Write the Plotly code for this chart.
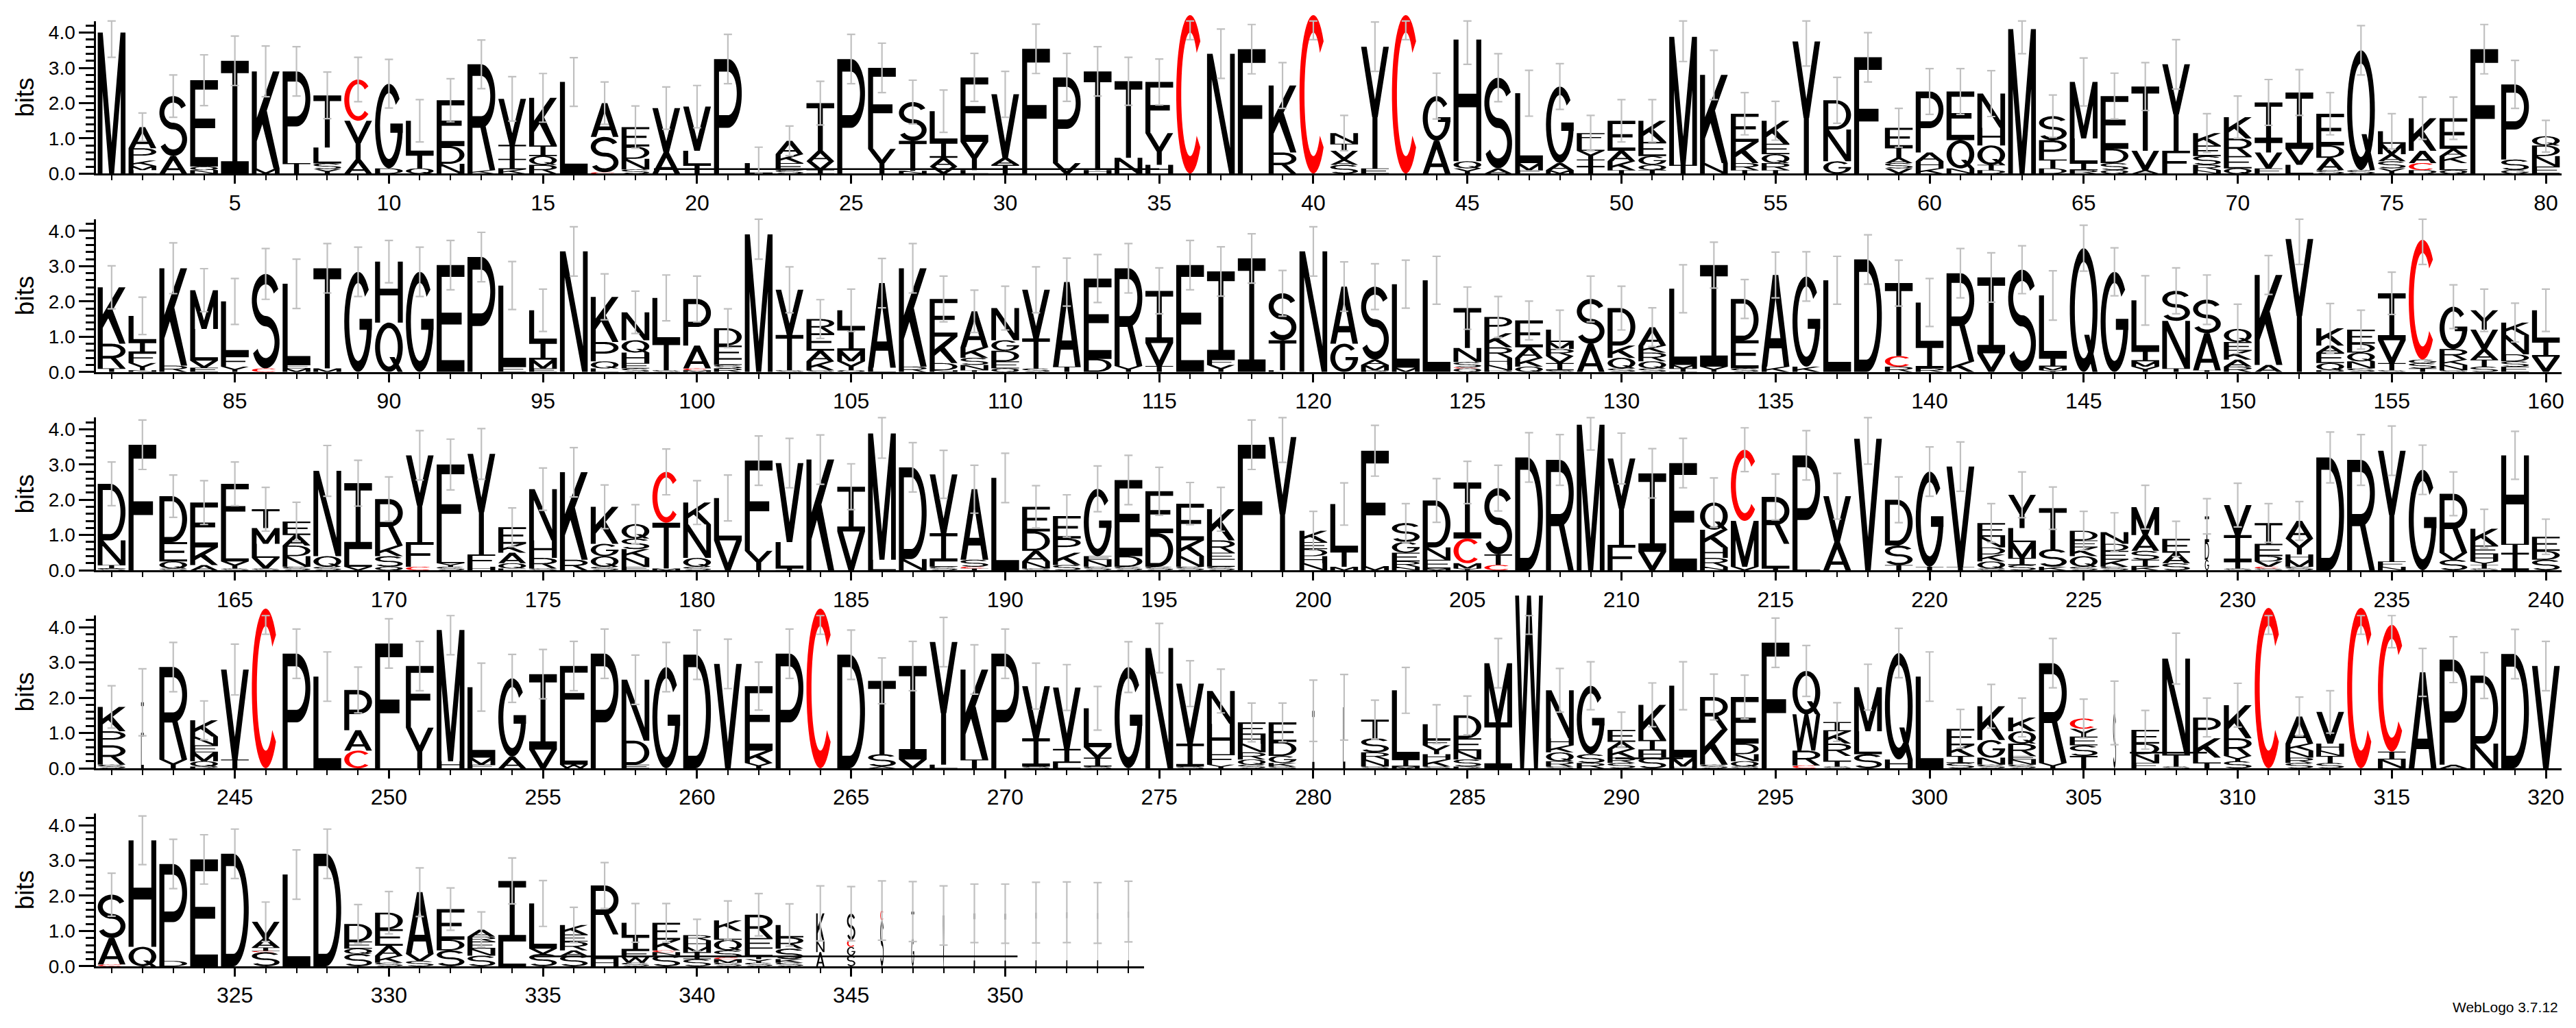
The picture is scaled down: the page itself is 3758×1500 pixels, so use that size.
import numpy as np
import plotly.graph_objects as go

# ---------------- data (read from the reference logo) ----------------
# each entry: one stack, letters bottom -> top, token = letter + height in bits
ROW_FIRST = [1, 81, 161, 241, 321]

STACKS_1_80 = [
    "M4.0", "L.1 M.12 K.15 P.35 A.6", "A.5 S1.7", "N.1 Q.1 E2.45", "I3.2", "M.15 K2.75", "T.3 P2.6", "Y.13 S.16 L.45 T1.48", "A.4 Y1.1 C1.17", "D.15 G2.4",
    "Q.15 T.4 L.95", "N.28 D.5 E1.3", "K.1 R3.0", "K.12 I.3 T.4 V1.3", "R.25 Q.25 I.3 K1.35", "L2.6", "C.04 S1.0 A.96", "S.12 N.3 D.35 E.55", "A.6 V1.26", "T.25 L.4 V1.25",
    "P3.25", "L.3", "S.1 E.2 K.25 A.38", "I.1 V.25 A.3 T1.35", "P3.25", "Y.7 F2.3", "N.08 T.85 S1.1", "V.2 A.25 I.45 L.87", "L.1 Y.8 E1.83", "T.25 A.2 V1.8",
    "F3.54", "V.3 P2.43", "H.1 T2.8", "N.45 T2.17", "H.25 Y.9 F1.45", "C4.5", "N3.4", "F3.53", "R.6 K1.9", "C4.5",
    "S.25 A.15 V.25 T.2 N.3", "E.15 Y3.45", "C4.5", "A.93 G1.27", "Y.15 Q.2 H3.45", "A.15 S2.57", "F.1 M.2 L1.98", "M.1 A.2 G2.17", "T.2 I.2 Y.25 L.25 F.25", "T.1 K.25 A.3 E.85",
    "T.1 Q.15 G.25 E.4 K.6", "T.25 M3.63", "N.3 K2.5", "T.1 R.2 K.6 E.8", "T.1 R.2 Q.25 E.3 K.65", "Y3.75", "G.35 N.9 D.83", "L.05 F3.25", "V.15 S.15 A.15 T.3 E.55", "K.15 H.2 A.25 P1.73",
    "N.15 Q.8 E1.38", "D.1 T.15 Q.55 H.5 N.97", "M4.1", "D.15 T.25 P.55 S.68", "R.1 I.2 L.7 M1.6", "Q.1 S.2 D.4 E1.5", "A.1 V.55 T1.82", "F.65 Y2.45", "N.1 R.15 S.25 E.3 K.35", "Q.15 E.35 R.5 K.6",
    "F.15 V.45 T.3 I1.12", "L.25 V.45 I1.6", "S.1 A.35 D.35 E.9", "S.1 Q3.4", "Y.15 S.2 A.2 M.3 L.35", "D.1 C.2 A.35 K.92", "Q.1 L.2 K.2 A.2 E.87", "F3.53", "G.1 S.3 P2.13", "E.2 N.3 D.3 Q.26",
]
STACKS_81_160 = [
    "T.1 R.7 K1.6", "N.05 Y.2 F.3 I.3 L.74", "R.18 K2.76", "E.12 V.2 L.9 M1.1", "Y.15 F.3 L1.55", "C.1 S2.68", "M.1 E.1 L2.3", "M.1 T2.84", "G2.84", "Q1.4 H1.73",
    "G2.84", "E3.03", "P3.26", "E.15 L2.3", "E.1 M.25 I.5 L.9", "N3.42", "L.1 Q.2 P.55 K1.28", "S.1 E.15 H.3 Q.35 N.79", "S.05 T.8 L1.25", "M.05 C.05 A.65 P1.32",
    "R.1 S.1 L.15 E.4 D.49", "M3.9", "S.05 T1.0 V1.28", "S.05 K.25 A.3 E.5 R.4", "Q.05 Y.25 M.3 I.65 L.5", "L.12 A2.4", "R.15 K2.79", "N.05 D.2 K.75 E1.07", "T.05 N.15 S.2 K.3 A1.02", "Q.1 E.2 D.3 G.3 N.91",
    "S.1 T.85 V1.38", "T.15 A2.4", "D.37 E2.28", "Y.17 R2.77", "T.17 V.65 I1.48", "E3.03", "Y.2 F.15 I2.5", "I3.22", "L.05 T.85 S1.33", "N3.42",
    "G.8 A1.62", "R.05 M.15 A.15 S2.07", "M.12 L2.37", "L2.6", "Q.1 C.03 S.15 N.4 T1.13", "D.05 N.15 H.2 R.3 K.4 P.46", "Q.15 K.25 A.3 E.76", "S.05 I.2 V.2 R.2 M.2 L.35", "A.8 S1.27", "S.1 Q.3 K.35 D1.06",
    "S.1 Q.2 R.25 K.2 A.52", "I.1 M.1 L2.16", "Y.15 I2.88", "S.1 E.8 D1.17", "K.15 A2.6", "K.15 G2.56", "L2.6", "D3.19", "R.15 C.3 T2.07", "R.1 I.65 L1.22",
    "K.3 R2.5", "V.53 I2.15", "S2.9", "Y.05 M.1 I.25 L1.77", "Q3.51", "G2.84", "Y.15 M.15 I.3 L1.43", "T.1 N1.35 S.85", "T.05 A1.05 S.95", "R.15 A.2 K.25 E.25 Q.37",
    "A.2 K2.55", "Y3.77", "D.05 Q.2 E.3 A.2 K.49", "S.1 N.2 Q.25 D.25 E.4", "S.05 T.2 V.65 I1.33", "T.1 S.15 G.1 C3.4", "S.05 N.15 K.15 R.3 G1.2", "S.15 T.2 A.3 V.55 Y.55", "E.15 S.15 D.2 N.55 K.35", "V.43 I.45 L.87",
]
STACKS_161_240 = [
    "S.05 I.1 N.7 D1.6", "F3.56", "S.05 Q.2 E.55 D1.3", "A.15 K.5 E1.27", "S.05 Y.2 L.8 F1.4", "S.05 V.3 L.4 M.45 T.53", "S.1 N.3 D.3 A.3 E.38", "S.1 Q.3 N2.42", "V.1 L.5 I1.87", "Q.1 S.3 K.3 R1.32",
    "C.1 F.7 Y2.46", "S.1 Y.1 L.3 F2.5", "H.1 F.35 Y2.85", "L.05 Q.15 A.3 K.25 E.47", "S.05 R.3 H.5 N1.45", "R.3 K2.48", "S.1 Q.3 G.35 K1.05", "E.1 N.25 K.25 S.3 Q.41", "M.05 T1.3 C1.44", "S.1 Q.25 N.95 K.62",
    "V.85 L1.2", "Y.55 F2.56", "I.05 L.75 V2.24", "K3.14", "V1.1 I1.27", "L.3 M3.58", "N.32 D2.6", "S.1 L.15 I.8 V1.67", "T.05 C.05 S.2 A2.0", "L2.62",
    "S.05 N.2 A.3 D.55 E.7", "S.15 K.35 P.4 E.64", "S.1 N.2 E.1 G1.91", "S.1 D.3 E2.16", "S.1 D.95 E1.19", "S.1 N.3 K.45 E1.04", "S.1 L.2 E.2 R.35 K.88", "F3.56", "Y3.78", "N.2 H.2 D.2 E.2 K.32",
    "M.1 T.45 L1.33", "M.12 F3.27", "N.1 R.15 E.25 G.3 S.54", "M.05 E.25 N.35 D1.33", "Y.05 M.15 C.7 I1.59", "C.15 T.3 S1.88", "D3.2", "R3.13", "M4.13", "F.72 Y2.45",
    "V.52 I2.23", "E3.04", "N.1 R.25 H.3 K.5 Q.77", "V.1 M1.3 C2.02", "T.05 L.7 R1.33", "L.2 P3.06", "A.8 V1.3", "V3.73", "T.15 S.55 D1.3", "T.1 G2.7",
    "T.1 V2.84", "S.05 Q.2 K.2 D.2 N.3 E.39", "S.15 I.2 M.45 L.4 Y.94", "K.1 S.5 T1.16", "S.1 Q.3 K.25 E.2 D.27", "S.1 K.2 E.25 D.2 N.33", "K.1 I.2 S.25 A.45 M.79", "S.2 A.3 E.39", "G.3 D.5 I.73", "S.05 T.2 I.75 V.85",
    "S.05 C.05 V.15 D.15 E.35 T.59", "S.1 M.2 H.15 Y.45 A.5", "D3.2", "R3.13", "N.1 F.15 Y3.14", "G2.85", "S.3 V.2 R1.67", "S.05 T.1 Y.1 H.2 E.25 K.48", "I.5 T.25 H2.51", "S.3 D.25 E.4",
]
STACKS_241_320 = [
    "S.1 R.55 P.4 K.69", "L.9 I.97", "Y.25 R2.62", "R.05 Q.15 M.25 E.2 N.25 K.46", "T.25 V2.55", "C4.53", "P3.25", "L2.6", "C.5 A.58 P1.14", "F3.54",
    "Y1.15 F1.75", "H.2 M3.72", "F.1 M.2 L2.0", "A.33 G2.22", "V.53 I2.14", "W.1 L1.1 F1.7", "P3.25", "E.1 D.68 N1.73", "G2.87", "D3.22",
    "V2.96", "Y.15 K.35 E1.83", "P3.25", "C4.53", "D3.22", "A.05 S.35 T2.08", "V.25 I2.65", "L.1 Y3.48", "T.25 K2.55", "P3.25",
    "S.05 I.8 V1.48", "L.15 I.4 V1.74", "S.05 I.25 V.3 L1.1", "G2.87", "N3.41", "S.05 I.65 V1.7", "Y.1 F.3 H.86 N.93", "S.1 Q.15 R.2 N.25 H.25 E.35", "S.05 K.1 G.2 D.4 E.55", "I1.63",
    "L1.73", "S.05 N.2 R.2 S.4 T.53", "M.05 I.2 L1.96", "S.05 K.2 H.15 Y.25 F.15 L.45", "R.05 S.2 N.25 E.35 D.65", "I1.3 M1.68", "W4.9", "S.05 R.15 Q.25 K.2 H.2 N1.36", "R.15 S.25 G1.94", "S.15 R.15 K.25 A.2 E.34",
    "S.3 H.2 I.3 K1.0", "H.05 M.25 L2.04", "S.1 K1.0 R.92", "S.05 Q.15 N.2 D.3 E1.32", "F3.56", "C.08 R.42 W1.03 Q1.23", "S.05 T.15 L.15 R.35 K.35 I.26", "S.4 L.65 M1.25", "H.25 Q3.02", "L2.6",
    "S.15 I.2 K.3 E.47", "S.1 N.2 G.5 K.96", "S.1 N.15 E.1 R.35 Q.35 K.39", "Y.15 R2.83", "T.35 S.3 E.25 Y.22 C.29", "S1.57", "F.15 N.25 D.3 E.39", "S.05 T.35 N2.71", "T.15 L.15 K.55 P.59", "S.2 Y.15 R.5 K.94",
    "C4.55", "S.15 R.15 N.2 K.2 A.77", "S.15 T.2 N.15 H.2 V.9", "C4.55", "N.25 I.22 C3.6", "A2.72", "A.1 P2.98", "N.7 D1.93", "D3.24", "V2.9",
]
STACKS_321_354 = [
    "C.05 A.75 S1.23", "Q.55 H3.02", "D.15 P2.75", "E3.03", "D3.19", "S.4 C.03 I.1 A.26 V.47", "L2.6", "D3.19", "S.35 Q.15 E.2 D.5", "S.1 K.2 A.28 E.47 D.47",
    "S.15 V.2 A1.75", "S.45 D.3 E.87", "S.3 N.2 E.2 R.14 A.2", "L.7 I1.72", "S.35 V.15 L1.28", "S.3 A.15 R.25 E.2 K.27", "H.2 L.7 R1.39", "S.1 W.15 E.2 I.4 L.38", "S.3 N.1 C.05 K.3 E.48", "S.2 I.2 M.15 H.18 R.15",
    "S.1 M.1 C.05 S.2 Q.3 L.25 K.3", "S.1 Y.1 T.1 L.2 E.3 R.66", "S.1 K.1 S.3 R.32 L.35", "A.4 N.3 K.8", "S.3 G.25 C.2 S.74", "S1.3 C.28", "G.8 T.75", "V1.44", "I1.5", "I1.49",
    "I1.52", "I1.53", "I1.51", "I1.55",
]

# error bar half-lengths (bits) per position
ERR_1_80 = [.7, .4, .6, .72, .7, .72, .7, .66, .63, .69, .6, .61, .69, .63, .69, .69, .6, .6, .6, .6,
            .7, .45, .42, .62, .7, .7, .62, .6, .68, .65, .7, .68, .7, .68, .65, .5, .7, .7, .65, .5,
            .5, .7, .5, .65, .7, .68, .65, .65, .5, .6, .6, .7, .7, .6, .55, .7, .65, .7, .55, .65,
            .65, .65, .7, .6, .68, .65, .68, .7, .55, .6, .65, .65, .6, .7, .5, .6, .6, .7, .68, .45]
ERR_81_160 = [.61, .53, .72, .61, .65, .72, .7, .7, .7, .6, .7, .7, .7, .68, .6, .7, .65, .6, .65, .65,
              .55, .7, .65, .55, .6, .7, .7, .65, .6, .62, .65, .68, .68, .7, .65, .7, .7, .7, .65, .7,
              .7, .65, .68, .68, .6, .58, .55, .55, .65, .62, .55, .68, .65, .55, .65, .7, .68, .7, .65, .68,
              .7, .7, .68, .7, .65, .68, .7, .65, .7, .7, .55, .72, .7, .55, .6, .7, .62, .6, .55, .6]
ERR_161_240 = [.62, .7, .6, .62, .62, .62, .55, .72, .65, .63, .7, .72, .72, .55, .6, .7, .62, .55, .65, .62,
               .65, .7, .7, .7, .65, .7, .7, .68, .68, .7, .6, .6, .65, .7, .68, .6, .62, .7, .72, .55,
               .6, .72, .55, .62, .6, .65, .7, .72, .72, .72, .7, .7, .7, .62, .65, .7, .65, .72, .65, .7,
               .7, .55, .65, .6, .55, .55, .62, .5, .5, .62, .55, .55, .72, .72, .7, .7, .62, .55, .68, .5]
ERR_241_320 = [.6, .95, .7, .55, .72, .5, .7, .7, .65, .7, .7, .7, .68, .68, .7, .7, .7, .7, .7, .7,
               .7, .68, .7, .5, .7, .65, .7, .7, .7, .7, .65, .65, .62, .72, .7, .65, .62, .55, .55, .87,
               .93, .55, .65, .55, .55, .7, .5, .62, .68, .5, .62, .68, .65, .62, .7, .72, .55, .65, .7, .7,
               .55, .62, .55, .7, .55, .9, .55, .72, .55, .62, .5, .55, .6, .5, .65, .68, .65, .65, .7, .7]
ERR_321_354 = [.61, .69, .7, .7, .7, .56, .7, .7, .55, .6, .69, .6, .5, .65, .65, .5, .65, .55, .55, .45,
               .55, .6, .6, .78, .77, .84, .85, .84, .83, .84, .86, .86, .86, .86]

# stacks drawn narrower (fraction of the full stack width)
NARROW_WIDTH = {229: .15, 242: .1, 280: .08, 281: .08, 306: .1, 344: .3, 345: .3, 346: .12,
                347: .1, 348: .06, 349: .05, 350: .05, 351: .04, 352: .04, 353: .04, 354: .04}

# thin horizontal rules visible inside the logo: (from position, to position, height in bits)
FLAT_RULES = [(18.6, 35.0, 0.13), (289.8, 292.0, 0.28), (306.5, 309.0, 0.44), (334.7, 350.4, 0.28)]

RED_LETTERS = {"C"}

ROWS = [STACKS_1_80, STACKS_81_160, STACKS_161_240, STACKS_241_320, STACKS_321_354]
ERRS = [ERR_1_80, ERR_81_160, ERR_161_240, ERR_241_320, ERR_321_354]

# ---------------- geometry / style ----------------
FONT = "Liberation Sans, Arial, Helvetica, sans-serif"
FIG_W, FIG_H = 3758, 1500
PX_PER_BIT = 52.0
PX_PER_POS = 45.0
X_LEFT_PX = 132.5
BASELINES_PX = [248.0, 540.5, 833.0, 1125.0, 1417.0]
AXIS_TOP = 4.33
LETTER_FILL = 0.9

SW, BH = 0.18, 0.11


def _rect(x0, y0, x1, y1):
    return [(x0, y0), (x1, y0), (x1, y1), (x0, y1)]


def _arc(cx, cy, rx, ry, a0, a1, sx=SW, sy=BH, n=30):
    t = np.radians(np.linspace(a0, a1, n))
    out = list(zip(cx + rx * np.cos(t), cy + ry * np.sin(t)))
    t2 = t[::-1]
    inn = list(zip(cx + (rx - sx) * np.cos(t2), cy + (ry - sy) * np.sin(t2)))
    return out + inn


_P_PARTS = [_rect(0, 0, SW, 1), _rect(0, 1 - BH, .5, 1), _rect(0, .4, .5, .4 + BH), _arc(.5, .7, .5, .3, -90, 90)]

RAW_GLYPHS = {
    "A": [[(0, 0), (.2, 0), (.6, 1), (.4, 1)], [(.8, 0), (1, 0), (.6, 1), (.4, 1)], _rect(.15, .2, .85, .2 + BH)],
    "C": [_arc(.5, .5, .5, .5, 42, 318, n=40)],
    "D": [_rect(0, 0, SW, 1), _rect(0, 0, .45, BH), _rect(0, 1 - BH, .45, 1), _arc(.45, .5, .55, .5, -90, 90)],
    "E": [_rect(0, 0, SW, 1), _rect(0, 1 - BH, 1, 1), _rect(0, .5 - BH / 2, .9, .5 + BH / 2), _rect(0, 0, 1, BH)],
    "F": [_rect(0, 0, SW, 1), _rect(0, 1 - BH, 1, 1), _rect(0, .44, .88, .44 + BH)],
    "G": [_arc(.5, .5, .5, .5, 40, 360, n=40), _rect(.55, .42, 1, .42 + BH)],
    "H": [_rect(0, 0, SW, 1), _rect(1 - SW, 0, 1, 1), _rect(0, .5 - BH / 2, 1, .5 + BH / 2)],
    "I": [_rect(.5 - SW / 2, 0, .5 + SW / 2, 1), _rect(0, 1 - BH, 1, 1), _rect(0, 0, 1, BH)],
    "K": [_rect(0, 0, SW, 1), [(SW, .28), (SW, .52), (.76, 1), (1, 1)], [(.34, .5), (.52, .62), (1, 0), (.78, 0)]],
    "L": [_rect(0, 0, SW, 1), _rect(0, 0, 1, BH)],
    "M": [_rect(0, 0, .17, 1), _rect(.83, 0, 1, 1), [(0, 1), (.18, 1), (.59, 0), (.41, 0)], [(.82, 1), (1, 1), (.59, 0), (.41, 0)]],
    "N": [_rect(0, 0, .17, 1), _rect(.83, 0, 1, 1), [(0, 1), (.2, 1), (1, 0), (.8, 0)]],
    "P": _P_PARTS,
    "Q": [_arc(.5, .5, .5, .5, 0, 360, n=50), [(.52, .3), (.7, .3), (1, 0), (.82, 0)]],
    "R": _P_PARTS + [[(.45, .42), (.65, .42), (1, 0), (.8, 0)]],
    "S": [_arc(.5, .7225, .5, .2775, 25, 270, sy=.11), _arc(.5, .2775, .5, .2775, -155, 90, sy=.11)],
    "T": [_rect(.5 - SW / 2, 0, .5 + SW / 2, 1), _rect(0, 1 - BH, 1, 1)],
    "V": [[(0, 1), (.2, 1), (.6, 0), (.4, 0)], [(.8, 1), (1, 1), (.6, 0), (.4, 0)]],
    "W": [[(0, 1), (.14, 1), (.32, 0), (.18, 0)], [(.18, 0), (.32, 0), (.57, 1), (.43, 1)],
          [(.43, 1), (.57, 1), (.82, 0), (.68, 0)], [(.68, 0), (.82, 0), (1, 1), (.86, 1)]],
    "Y": [[(0, 1), (.2, 1), (.6, .42), (.4, .42)], [(.8, 1), (1, 1), (.6, .42), (.4, .42)], _rect(.5 - SW / 2, 0, .5 + SW / 2, .45)],
}


def _norm(poly):
    a = np.asarray(poly, dtype=float)
    x, y = a[:, 0], a[:, 1]
    area = 0.5 * np.sum(x * np.roll(y, -1) - np.roll(x, -1) * y)
    return a if area > 0 else a[::-1]


GLYPHS = {k: [_norm(p) for p in v] for k, v in RAW_GLYPHS.items()}


def parse_stack(s):
    return [(t[0], float(t[1:])) for t in s.split()]


fig = go.Figure()
layout = dict(width=FIG_W, height=FIG_H, autosize=False, margin=dict(l=0, r=0, t=0, b=0),
              paper_bgcolor="white", plot_bgcolor="rgba(0,0,0,0)", showlegend=False, hovermode=False)

for r in range(5):
    stacks = ROWS[r]
    errs = ERRS[r]
    first = ROW_FIRST[r]
    n = len(stacks)
    xi, yf, yl = r + 1, r + 1, r + 6
    xref = "x" if xi == 1 else f"x{xi}"
    yref_f = "y" if yf == 1 else f"y{yf}"
    yref_l = f"y{yl}"
    xkey = "xaxis" if xi == 1 else f"xaxis{xi}"
    ykey_f = "yaxis" if yf == 1 else f"yaxis{yf}"
    ykey_l = f"yaxis{yl}"

    x0p = X_LEFT_PX / FIG_W
    x1p = (X_LEFT_PX + n * PX_PER_POS) / FIG_W
    yb = (FIG_H - BASELINES_PX[r]) / FIG_H
    yt_f = yb + AXIS_TOP * PX_PER_BIT / FIG_H
    yt_l = min(1.0, yb + 5.1 * PX_PER_BIT / FIG_H)
    let_top = (yt_l - yb) * FIG_H / PX_PER_BIT

    buf = {"k": ([], []), "r": ([], [])}
    centers, ups, dns, xs_err = [], [], [], []
    for i, s in enumerate(stacks):
        pos = first + i
        wf = NARROW_WIDTH.get(pos, 1.0) * LETTER_FILL
        y0 = 0.0
        for letter, h in parse_stack(s):
            key = "r" if letter in RED_LETTERS else "k"
            bx, by = buf[key]
            for poly in GLYPHS[letter]:
                px = pos + (poly[:, 0] - 0.5) * wf
                py = y0 + poly[:, 1] * h
                bx.extend(np.round(px, 3).tolist()); bx.append(None)
                by.extend(np.round(py, 3).tolist()); by.append(None)
            y0 += h
        c = min(y0, 4.3)
        e = errs[i] if i < len(errs) else 0.65
        xs_err.append(pos)
        centers.append(round(c, 3))
        ups.append(round(max(0.0, min(c + e, AXIS_TOP) - c), 3))
        dns.append(round(min(e, c), 3))

    for key, col in (("k", "black"), ("r", "#ff0000")):
        bx, by = buf[key]
        if bx:
            fig.add_trace(go.Scatter(x=bx, y=by, xaxis=xref, yaxis=yref_l, mode="lines", fill="toself",
                                     fillcolor=col, line=dict(width=0, color=col, simplify=False),
                                     hoverinfo="skip", showlegend=False))

    for (a, b, hgt) in FLAT_RULES:
        if first - 0.5 <= a <= first + n - 0.5:
            fig.add_trace(go.Scatter(x=[a, b], y=[hgt, hgt], xaxis=xref, yaxis=yref_l, mode="lines",
                                     line=dict(color="black", width=2.5), hoverinfo="skip", showlegend=False))

    fig.add_trace(go.Scatter(x=xs_err, y=centers, xaxis=xref, yaxis=yref_l, mode="markers",
                             marker=dict(size=2, color="rgba(0,0,0,0)"),
                             error_y=dict(type="data", symmetric=False, array=ups, arrayminus=dns,
                                          color="#c0c0c0", thickness=2.2, width=6),
                             hoverinfo="skip", showlegend=False))

    fig.add_trace(go.Scatter(x=[first], y=[0], xaxis=xref, yaxis=yref_f, mode="markers",
                             marker=dict(size=1, color="rgba(0,0,0,0)"), hoverinfo="skip", showlegend=False))

    majors = [v for v in range(first, first + n) if v % 5 == 0]
    layout[xkey] = dict(domain=[x0p, x1p], range=[first - 0.5, first + n - 0.5], anchor=yref_f,
                        showline=True, linecolor="black", linewidth=3, ticks="outside", ticklen=12,
                        tickwidth=2.5, tickcolor="black", tickmode="array", tickvals=majors,
                        ticktext=[str(v) for v in majors],
                        tickfont=dict(family=FONT, size=32, color="black"),
                        showgrid=False, zeroline=False, fixedrange=True,
                        minor=dict(tickmode="array", tickvals=list(range(first, first + n)), ticks="outside",
                                   ticklen=7, tickwidth=2, tickcolor="black", showgrid=False))
    minor_y = [round(0.2 * k, 1) for k in range(22) if k % 5]
    layout[ykey_f] = dict(domain=[yb, yt_f], range=[0, AXIS_TOP], anchor=xref, showline=True,
                          linecolor="black", linewidth=3, ticks="outside", ticklen=22, tickwidth=3,
                          tickcolor="black", tickmode="array", tickvals=[0, 1, 2, 3, 4],
                          ticktext=["0.0", "1.0", "2.0", "3.0", "4.0"],
                          tickfont=dict(family=FONT, size=28, color="black"),
                          minor=dict(tickmode="array", tickvals=minor_y, ticks="outside", ticklen=12,
                                     tickwidth=2.7, tickcolor="black", showgrid=False),
                          showgrid=False, zeroline=False, fixedrange=True,
                          title=dict(text="bits", font=dict(family=FONT, size=37, color="black"), standoff=10))
    layout[ykey_l] = dict(domain=[yb, yt_l], range=[0, let_top], anchor=xref, visible=False,
                          fixedrange=True, showgrid=False, zeroline=False)

layout["annotations"] = [dict(text="WebLogo 3.7.12", x=3730 / FIG_W, y=(FIG_H - 1491) / FIG_H,
                              xref="paper", yref="paper", xanchor="right", yanchor="bottom",
                              showarrow=False, font=dict(family=FONT, size=21, color="black"))]

fig.update_layout(**layout)
fig.write_html("out.html")
